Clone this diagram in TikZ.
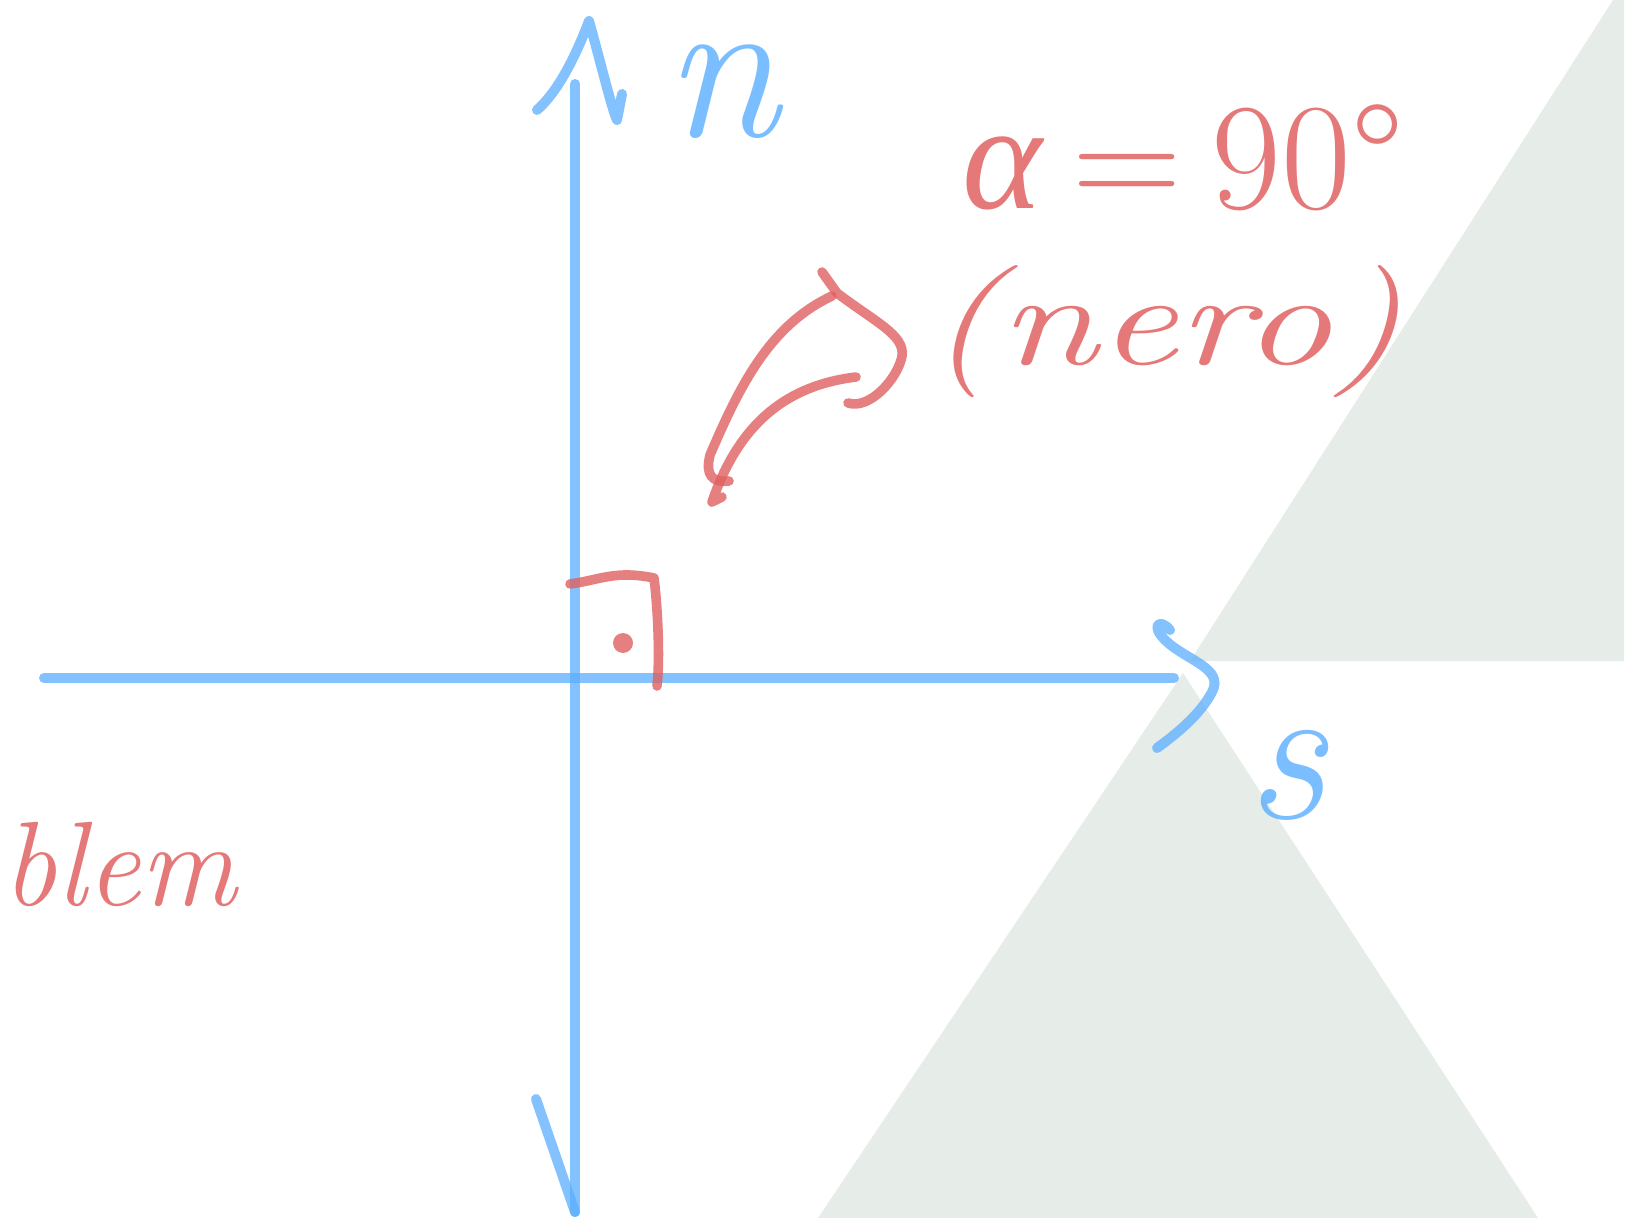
\documentclass[tikz,border=0pt]{standalone}
\usepackage{fontspec}
\newfontfamily\greekfont{Liberation Serif}

\definecolor{penBlue}{HTML}{5AAEFF}
\definecolor{penRed}{HTML}{E06060}
\definecolor{paperGrey}{HTML}{E6ECE8}

\tikzset{
  bluepen/.style={draw=penBlue, draw opacity=0.75, line width=5pt, line cap=round, line join=round},
  redpen/.style={draw=penRed, draw opacity=0.8, line width=4.8pt, line cap=round, line join=round},
  redtext/.style={text=penRed, text opacity=0.85, inner sep=0pt},
  bluetext/.style={text=penBlue, text opacity=0.8, inner sep=0pt}
}

\begin{document}
\begin{tikzpicture}[x=0.5pt, y=-0.5pt]
    % Fix page size
    \useasboundingbox (0,0) rectangle (1641,1218);

    % Background shapes
    \fill[paperGrey] (1613,0) -- (1624,0) -- (1624,661) -- (1190,661) -- cycle;
    \fill[paperGrey] (1183,673) -- (1538,1218) -- (818,1218) -- cycle;

    % Axis end points
    \coordinate (nTop) at (575,84);
    \coordinate (nBot) at (575,1212);
    \coordinate (sLeft) at (44,678);
    \coordinate (sRight) at (1174,678);

    % Draw axes
    \draw[bluepen] (nTop) -- (nBot);
    \draw[bluepen] (sLeft) -- (sRight);

    % Hand drawn arrow tips
    \draw[bluepen] (537,110) .. controls (560,90) and (578,50) .. (589,21)
                  .. controls (600,60) and (612,110) .. (617,120) -- (622,94);
    \draw[bluepen] (536,1099) -- (nBot);
    \draw[bluepen] (1170,630) .. controls (1160,618) and (1150,625) .. (1165,640)
                  .. controls (1185,660) and (1225,668) .. (1212,692)
                  .. controls (1200,715) and (1175,735) .. (1157,748);

    % Axis labels
    \node[bluetext, font=\fontsize{104}{104}\selectfont\itshape] (nLabel) at (722,92) {n};
    \node[bluetext, font=\fontsize{100}{100}\selectfont\itshape] (sLabel) at (1286,775) {s};

    % Right angle mark
    \draw[redpen] (570,584) .. controls (600,580) and (615,570) .. (654,578)
                 .. controls (658,610) and (660,660) .. (657,686);
    \fill[penRed, opacity=0.8] (623,643) circle (10);

    % Curved pointer
    \draw[redpen] (822,272) -- (837,293) .. controls (875,322) and (905,335) .. (902,356)
                 .. controls (898,378) and (870,410) .. (848,403);
    \draw[redpen] (832,296) .. controls (770,325) and (740,385) .. (710,455)
                 .. controls (705,475) and (712,483) .. (729,481);
    \draw[redpen] (856,377) .. controls (790,385) and (740,420) .. (712,502) -- (722,497);

    % Angle text
    \node[redtext, font=\fontsize{76}{76}\selectfont] (alphaText) at (1183,158) {{\greekfont\itshape α}\hspace{0.2em}=\hspace{0.2em}90°};
    \node[redtext, font=\fontsize{66}{66}\selectfont\itshape, xscale=1.35] (neroText) at (1165,332) {(nero)};

    % Text at left edge
    \node[redtext, font=\fontsize{60}{60}\selectfont\itshape, anchor=base west] (leftText) at (2,905) {blem};
\end{tikzpicture}
\end{document}
